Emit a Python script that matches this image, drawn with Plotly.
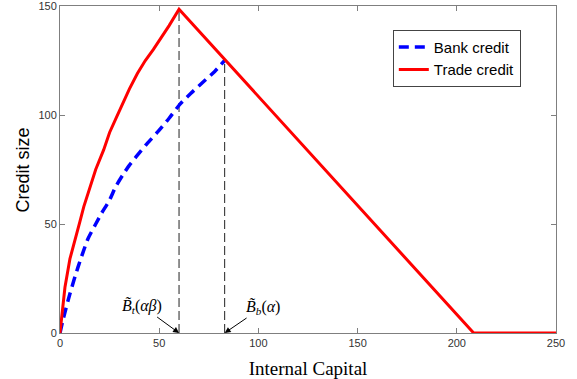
import plotly.graph_objects as go

# Trade credit: rising branch, peak, then linear decline to zero
trade_x = [0, 1, 2.5, 5, 8, 10, 12, 15, 18, 22, 25, 28.5, 32, 35, 39, 43, 47, 50, 55, 60, 83, 208.5, 250]
trade_y = [0, 9, 21, 34, 45, 51, 58, 67, 75, 84, 92, 99, 106, 112, 119, 125, 130, 134, 141, 148.5, 125.5, 0, 0]

# Bank credit: rising branch up to its threshold
bank_x = [0, 1.5, 5, 9, 14, 18, 21, 25, 28, 32, 35, 38.5, 44, 49, 55, 60.5, 66, 72, 78, 83]
bank_y = [0, 6, 18, 30, 43, 50, 55, 61, 67, 73, 77, 81, 87, 92, 98.5, 105, 110, 115, 120, 125]

# Thresholds (internal capital) and credit level reached there
threshold_x = [60, 83]
threshold_y = [148.5, 125]
threshold_labels = ["<i>B̃</i><sub><i>t</i></sub>(<i>αβ</i>)", "<i>B̃</i><sub><i>b</i></sub>(<i>α</i>)"]

x_ticks = [0, 50, 100, 150, 200, 250]
y_ticks = [0, 50, 100, 150]

fig = go.Figure()

for tx, ty in zip(threshold_x, threshold_y):
    fig.add_trace(go.Scatter(
        x=[tx, tx], y=[0, ty], mode="lines",
        line=dict(color="#222222", width=1, dash="9px,4px"),
        showlegend=False, hoverinfo="skip"))

fig.add_trace(go.Scatter(
    x=bank_x, y=bank_y, mode="lines", name="Bank credit",
    line=dict(color="#0000FF", width=3.5, dash="10px,6px", shape="spline", smoothing=0.6)))
fig.add_trace(go.Scatter(
    x=trade_x, y=trade_y, mode="lines", name="Trade credit",
    line=dict(color="#FF0000", width=3)))

offsets = [(-37, -27), (38, -26)]
for tx, label, (ax, ay) in zip(threshold_x, threshold_labels, offsets):
    fig.add_annotation(
        x=tx, y=0, xref="x", yref="y", text=label,
        showarrow=True, arrowhead=2, arrowsize=1.2, arrowwidth=1,
        arrowcolor="black", ax=ax, ay=ay,
        font=dict(family="Liberation Serif", size=16, color="black"))

# Vertical axis title, placed just left of the tick labels
fig.add_annotation(
    text="Credit size", xref="paper", yref="paper", x=-0.0746, y=0.5,
    xanchor="center", yanchor="middle", textangle=-90, showarrow=False,
    font=dict(family="Liberation Sans", size=18, color="black"))

axis_common = dict(
    showline=True, linecolor="#7f7f7f", linewidth=1, mirror="ticks",
    ticks="inside", ticklen=5, tickcolor="#7f7f7f",
    showgrid=False, zeroline=False, ticklabeloverflow="allow",
    automargin=False,
    tickfont=dict(family="Liberation Sans", size=11, color="#333333"))

fig.update_xaxes(
    range=[0, 250], tickvals=x_ticks, **axis_common,
    title=dict(text="Internal Capital",
               font=dict(family="Liberation Serif", size=19, color="black")))
fig.update_yaxes(range=[0, 150], tickvals=y_ticks, **axis_common)

fig.update_layout(
    width=577, height=379,
    margin=dict(l=60, r=21, t=6, b=46),
    paper_bgcolor="white", plot_bgcolor="white",
    legend=dict(x=0.671, y=0.927, xanchor="left", yanchor="top",
                bgcolor="white", bordercolor="#444444", borderwidth=1,
                font=dict(family="Liberation Sans", size=15, color="black"),
                tracegroupgap=0, itemwidth=30),
)

fig.write_html("out.html")
